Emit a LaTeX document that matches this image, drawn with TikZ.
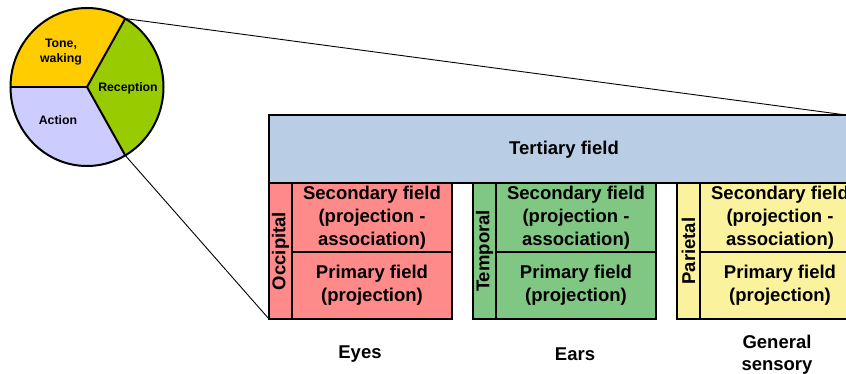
\documentclass[tikz,border=0pt]{standalone}
\usepackage{fontspec}
\setmainfont{Liberation Sans}
\usetikzlibrary{positioning}
\definecolor{piegold}{HTML}{FFCC00}
\definecolor{piegreen}{HTML}{99CC00}
\definecolor{pielilac}{HTML}{CCCCFF}
\definecolor{tertblue}{HTML}{B9CDE5}
\definecolor{occred}{HTML}{FF8A8A}
\definecolor{tempgreen}{HTML}{80C784}
\definecolor{parlyellow}{HTML}{FAF29C}

\begin{document}
\begin{tikzpicture}[
  x=1pt, y=-1pt,
  every node/.style={font=\bfseries},
  fieldbox/.style={rectangle, draw=black, line width=1.4pt, fill=#1, anchor=north west, inner sep=0pt, outer sep=0pt, align=center, font=\fontsize{18.5}{23}\bfseries},
  lobebox/.style={fieldbox=#1, minimum width=23pt, minimum height=136pt},
  secbox/.style={fieldbox=#1, minimum width=160pt, minimum height=69pt},
  primbox/.style={fieldbox=#1, minimum width=160pt, minimum height=67pt},
  pielabel/.style={align=center, font=\fontsize{12.3}{15}\bfseries},
  senselabel/.style={align=center, font=\fontsize{18.5}{22}\bfseries},
]
\useasboundingbox (0,0) rectangle (846,374);

% pie
\coordinate (pc) at (87,87);
\fill[piegold] (pc) -- ++(-60:76.5 and 79) arc[start angle=-60, end angle=-180, x radius=76.5, y radius=79] -- cycle;
\fill[piegreen] (pc) -- ++(60:76.5 and 79) arc[start angle=60, end angle=-60, x radius=76.5, y radius=79] -- cycle;
\fill[pielilac] (pc) -- ++(-180:76.5 and 79) arc[start angle=-180, end angle=-300, x radius=76.5, y radius=79] -- cycle;
\draw[line width=2pt] (pc) ellipse[x radius=76.5, y radius=79];
\draw[line width=2pt] (pc) -- ++(-180:76.5 and 79);
\draw[line width=2pt] (pc) -- ++(-60:76.5 and 79) coordinate (pietop);
\draw[line width=2pt] (pc) -- ++(60:76.5 and 79) coordinate (piebot);

\node[pielabel] (tone) at (61,52) {Tone,\\waking};
\node[pielabel] (recep) at (128,88) {Reception};
\node[pielabel] (action) at (58,120) {Action};

% fields
\node[fieldbox=tertblue, minimum width=600pt, minimum height=68pt] (tert) at (269,115) {};
\node[font=\fontsize{18.5}{23}\bfseries] (tertlbl) at (564,150) {Tertiary field};

\node[lobebox=occred] (occ) at (269,183) {};
\node[rotate=90, font=\fontsize{18.5}{23}\bfseries] at (occ.center) {Occipital};
\node[secbox=occred] (occsec) at (292,183) {Secondary field\\(projection -\\association)};
\node[primbox=occred] (occprim) at (292,252) {Primary field\\(projection)};

\node[lobebox=tempgreen] (temp) at (473,183) {};
\node[rotate=90, font=\fontsize{18.5}{23}\bfseries] at (temp.center) {Temporal};
\node[secbox=tempgreen] (tempsec) at (496,183) {Secondary field\\(projection -\\association)};
\node[primbox=tempgreen] (tempprim) at (496,252) {Primary field\\(projection)};

\node[lobebox=parlyellow] (par) at (677,183) {};
\node[rotate=90, font=\fontsize{18.5}{23}\bfseries] at (par.center) {Parietal};
\node[secbox=parlyellow] (parsec) at (700,183) {Secondary field\\(projection -\\association)};
\node[primbox=parlyellow] (parprim) at (700,252) {Primary field\\(projection)};

% senses
\node[senselabel] (eyes) at (360,354) {Eyes};
\node[senselabel] (ears) at (575,354) {Ears};
\node[senselabel] (gensens) at (777,355) {General\\sensory};

% zoom lines
\coordinate (tertcorner) at (846,115);
\draw[line width=0.9pt] (pietop) -- (tertcorner);
\draw[line width=0.9pt] (piebot) -- (occ.south west);
\end{tikzpicture}
\end{document}
